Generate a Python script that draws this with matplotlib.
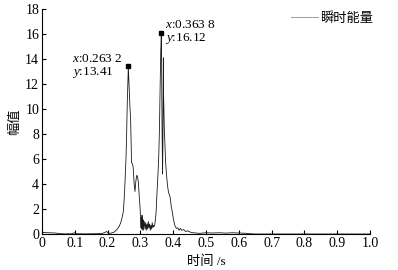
import matplotlib
matplotlib.use("Agg")
import matplotlib.pyplot as plt

# 瞬时能量曲线 (从图上读取的点)
t = [0.000, 0.005, 0.020, 0.040, 0.055, 0.070, 0.090, 0.100, 0.105, 0.130,
     0.160, 0.180, 0.190, 0.197, 0.203, 0.212, 0.220, 0.228, 0.235, 0.240,
     0.244, 0.248, 0.251, 0.253, 0.256, 0.258, 0.260, 0.2632, 0.266, 0.268,
     0.270, 0.272, 0.273, 0.276, 0.278, 0.281, 0.2835, 0.286, 0.289, 0.291,
     0.2936, 0.296, 0.299, 0.301, 0.302,
     0.303, 0.304, 0.305, 0.306, 0.307, 0.308, 0.309, 0.310, 0.312, 0.314,
     0.316, 0.318, 0.320, 0.322, 0.324, 0.326, 0.328, 0.330, 0.332, 0.334,
     0.336, 0.338, 0.340, 0.342, 0.344,
     0.346, 0.348, 0.350, 0.352, 0.354, 0.356, 0.358, 0.360, 0.362, 0.3638,
     0.365, 0.366, 0.3675, 0.3685, 0.3695, 0.370, 0.3705, 0.372, 0.373, 0.375,
     0.377, 0.380, 0.383, 0.386, 0.389, 0.391, 0.394, 0.397, 0.400, 0.403,
     0.406, 0.410, 0.414, 0.418, 0.422, 0.426, 0.432, 0.438, 0.445, 0.452,
     0.460, 0.470, 0.480, 0.500, 0.520, 0.540, 0.560, 0.580, 0.600, 0.620,
     0.635, 0.650, 1.000]
energy = [0.05, 0.12, 0.10, 0.08, 0.03, 0.01, 0.02, 0.10, 0.02, 0.01,
          0.02, 0.03, 0.10, 0.20, 0.05, 0.08, 0.15, 0.35, 0.6, 0.9,
          1.3, 1.8, 3.0, 4.1, 6.0, 8.0, 10.5, 13.41, 11.5, 10.2,
          9.3, 7.0, 5.7, 5.6, 5.3, 4.0, 3.4, 4.2, 4.7, 4.6,
          4.2, 3.2, 2.1, 1.0, 0.5,
          1.3, 0.4, 1.5, 0.5, 1.2, 0.3, 1.1, 0.6, 1.0, 0.4,
          0.9, 0.3, 0.8, 0.4, 1.0, 0.5, 0.8, 0.3, 0.7, 0.4,
          0.9, 0.5, 0.7, 0.6, 0.8,
          1.2, 1.8, 3.0, 4.0, 5.0, 6.3, 8.3, 11.5, 14.5, 16.12,
          12.5, 8.5, 4.8, 7.0, 11.0, 14.1, 11.3, 9.6, 8.3, 7.0,
          5.7, 4.6, 3.8, 3.3, 3.1, 2.9, 2.2, 1.8, 1.3, 0.9,
          0.6, 0.45, 0.5, 0.3, 0.45, 0.3, 0.35, 0.2, 0.25, 0.15,
          0.1, 0.08, 0.05, 0.1, 0.08, 0.1, 0.07, 0.1, 0.08, 0.06,
          0.02, 0.0, 0.0]

peak_t = [0.2632, 0.3638]
peak_y = [13.41, 16.12]
peak_txt = ["$x$:0.263 2\n$y$:13.41", "$x$:0.363 8\n$y$:16.12"]
peak_off = [(-40.5, 0), (3.0, 0)]   # 文本偏移 (points)

xticks = [0, 0.1, 0.2, 0.3, 0.4, 0.5, 0.6, 0.7, 0.8, 0.9, 1.0]
yticks = [0, 2, 4, 6, 8, 10, 12, 14, 16, 18]

plt.rcParams['font.family'] = ['Liberation Serif', 'Noto Sans CJK SC']
plt.rcParams['mathtext.fontset'] = 'custom'
plt.rcParams['mathtext.rm'] = 'Liberation Serif'
plt.rcParams['mathtext.it'] = 'Liberation Serif:italic'

fig = plt.figure(figsize=(3.98, 2.70), dpi=100)
ax = fig.add_axes([42/398, 1-234/270, 328/398, 225/270])

ax.plot(t, energy, color='0.1', lw=0.6, label='瞬时能量')
ax.plot(peak_t, peak_y, 's', color='black', ms=3)
for px, py, s, off in zip(peak_t, peak_y, peak_txt, peak_off):
    ax.annotate(s, (px, py), xytext=off, textcoords='offset points',
                ha='left', va='center', fontsize=9.5, linespacing=1.0)

ax.set_xlim(0, 1.0)
ax.set_ylim(0, 18)
ax.set_xticks(xticks)
ax.set_xticklabels(['0', '0.1', '0.2', '0.3', '0.4', '0.5', '0.6', '0.7', '0.8', '0.9', '1.0'])
ax.set_yticks(yticks)
ax.tick_params(direction='in', length=3, width=0.8, labelsize=10, pad=2)
for sp in ['top', 'right']:
    ax.spines[sp].set_visible(False)
ax.spines['left'].set_linewidth(0.8)
ax.spines['bottom'].set_linewidth(0.8)

ax.set_xlabel('时间 /s', fontsize=9.5, labelpad=4)
ax.set_ylabel('幅值', fontsize=9.5, labelpad=3)

leg = ax.legend(loc='upper right', bbox_to_anchor=(1.03, 1.015), frameon=False,
                fontsize=9.5, handlelength=2.0, handletextpad=0.2, borderaxespad=0.1)
leg.get_lines()[0].set_color('0.55')

fig.savefig('out.png', dpi=100)
